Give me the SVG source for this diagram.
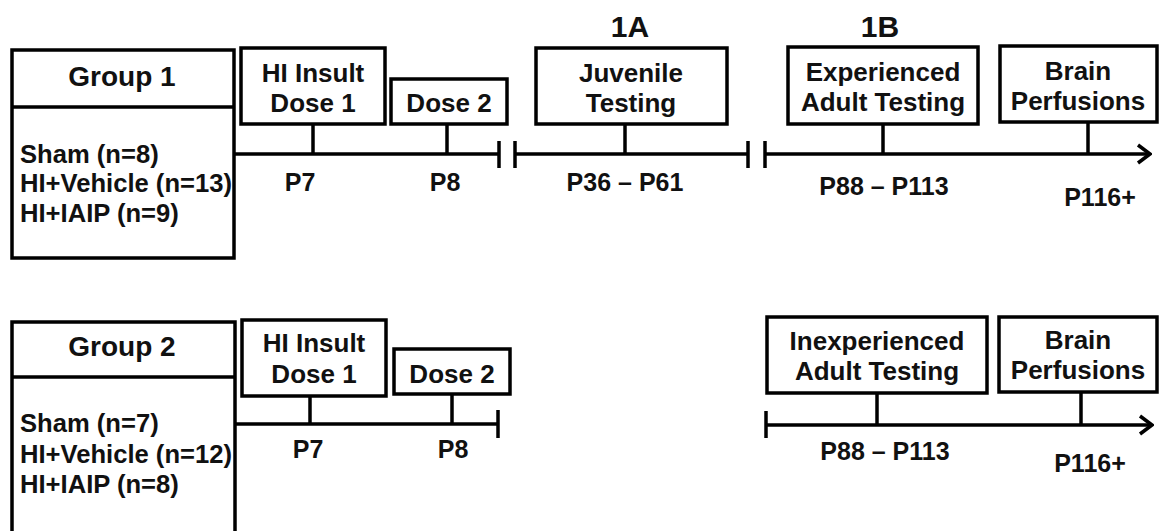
<svg xmlns="http://www.w3.org/2000/svg" width="1160" height="531" viewBox="0 0 1160 531">
<defs>
<style>
.box{fill:#fff;stroke:#000;stroke-width:3.5}
.ln{stroke:#000;stroke-width:3.5;fill:none}
text{font-family:"Liberation Sans",Arial,sans-serif;font-weight:bold;fill:#111}
.t{font-size:26px;text-anchor:middle}
.p{font-size:25px;text-anchor:middle}
.l{font-size:25.6px}
.g{font-size:28px;text-anchor:middle}
.h{font-size:30px;text-anchor:middle}
</style>
<marker id="arr" markerUnits="userSpaceOnUse" viewBox="0 0 16 22" refX="14" refY="11" markerWidth="16" markerHeight="22" orient="auto">
<path d="M2,2 L14,11 L2,20" fill="none" stroke="#000" stroke-width="3.5"/>
</marker>
</defs>
<rect width="1160" height="531" fill="#fff"/>

<g id="connectors">
<line class="ln" x1="234" y1="154" x2="499" y2="154"/>
<line class="ln" x1="499" y1="141" x2="499" y2="168"/>
<line class="ln" x1="313" y1="124" x2="313" y2="154"/>
<line class="ln" x1="447" y1="124" x2="447" y2="154"/>
<line class="ln" x1="515" y1="154" x2="748" y2="154"/>
<line class="ln" x1="515" y1="141" x2="515" y2="168"/>
<line class="ln" x1="748" y1="141" x2="748" y2="168"/>
<line class="ln" x1="625" y1="124" x2="625" y2="154"/>
<line class="ln" x1="765" y1="154" x2="1150" y2="154" marker-end="url(#arr)"/>
<line class="ln" x1="765" y1="141" x2="765" y2="168"/>
<line class="ln" x1="883" y1="124" x2="883" y2="154"/>
<line class="ln" x1="1088" y1="122" x2="1088" y2="154"/>
<line class="ln" x1="235" y1="424" x2="498" y2="424"/>
<line class="ln" x1="498" y1="410" x2="498" y2="438"/>
<line class="ln" x1="310" y1="396" x2="310" y2="424"/>
<line class="ln" x1="452" y1="394" x2="452" y2="424"/>
<line class="ln" x1="766" y1="425" x2="1152" y2="425" marker-end="url(#arr)"/>
<line class="ln" x1="766" y1="411" x2="766" y2="438"/>
<line class="ln" x1="877" y1="393" x2="877" y2="425"/>
<line class="ln" x1="1081" y1="392" x2="1081" y2="425"/>
</g>

<g id="group1">
<rect class="box" x="12" y="50" width="222" height="208"/>
<line class="ln" x1="12" y1="107" x2="234" y2="107"/>
<text class="g" x="122" y="86">Group 1</text>
<text class="l" x="20" y="163">Sham (n=8)</text>
<text class="l" x="20" y="192">HI+Vehicle (n=13)</text>
<text class="l" x="20" y="222">HI+IAIP (n=9)</text>
</g>
<g id="g1-dose1">
<rect class="box" x="241" y="48" width="144" height="76"/>
<text class="t" x="313" y="82">HI Insult</text>
<text class="t" x="313" y="112">Dose 1</text>
</g>
<g id="g1-dose2">
<rect class="box" x="391" y="79" width="116" height="45"/>
<text class="t" x="449" y="112">Dose 2</text>
</g>
<g id="g1-juvenile">
<rect class="box" x="536" y="48" width="191" height="76"/>
<text class="t" x="631" y="82">Juvenile</text>
<text class="t" x="631" y="112">Testing</text>
</g>
<g id="g1-experienced">
<rect class="box" x="788" y="47" width="190" height="77"/>
<text class="t" x="883" y="81">Experienced</text>
<text class="t" x="883" y="111">Adult Testing</text>
</g>
<g id="g1-brain">
<rect class="box" x="1000" y="46" width="157" height="76"/>
<text class="t" x="1078" y="80">Brain</text>
<text class="t" x="1078" y="110">Perfusions</text>
</g>
<g id="g1-labels">
<text class="h" x="630" y="37">1A</text>
<text class="h" x="880" y="37">1B</text>
<text class="p" x="300" y="191">P7</text>
<text class="p" x="445" y="191">P8</text>
<text class="p" x="625" y="191">P36 – P61</text>
<text class="p" x="884" y="195">P88 – P113</text>
<text class="p" x="1100" y="206">P116+</text>
</g>

<g id="group2">
<rect class="box" x="12" y="322" width="223" height="230"/>
<line class="ln" x1="12" y1="377" x2="235" y2="377"/>
<text class="g" x="122" y="356">Group 2</text>
<text class="l" x="20" y="432">Sham (n=7)</text>
<text class="l" x="20" y="463">HI+Vehicle (n=12)</text>
<text class="l" x="20" y="493">HI+IAIP (n=8)</text>
</g>
<g id="g2-dose1">
<rect class="box" x="242" y="320" width="144" height="76"/>
<text class="t" x="314" y="352">HI Insult</text>
<text class="t" x="314" y="383">Dose 1</text>
</g>
<g id="g2-dose2">
<rect class="box" x="394" y="349" width="116" height="45"/>
<text class="t" x="452" y="383">Dose 2</text>
</g>
<g id="g2-inexperienced">
<rect class="box" x="767" y="317" width="220" height="76"/>
<text class="t" x="877" y="350">Inexperienced</text>
<text class="t" x="877" y="380">Adult Testing</text>
</g>
<g id="g2-brain">
<rect class="box" x="999" y="317" width="158" height="75"/>
<text class="t" x="1078" y="349">Brain</text>
<text class="t" x="1078" y="379">Perfusions</text>
</g>
<g id="g2-labels">
<text class="p" x="308" y="458">P7</text>
<text class="p" x="453" y="458">P8</text>
<text class="p" x="885" y="460">P88 – P113</text>
<text class="p" x="1090" y="472">P116+</text>
</g>
</svg>
